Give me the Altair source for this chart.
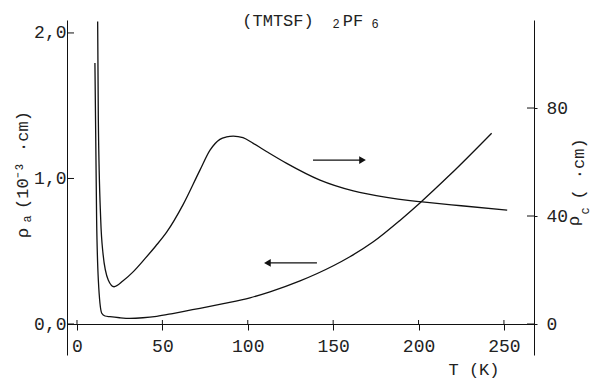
import altair as alt
import pandas as pd

# (TMTSF)2PF6: resistivity along a (10^-3 ohm cm) versus temperature (K)
T_A = [10.5, 11.5, 12.5, 14.5, 16.4, 19.3, 25.0, 31.0, 38.6, 46.7, 56.0, 66.2, 72.0,
       85.7, 101.3, 113.0, 130.6, 150.1, 159.8, 173.5, 189.1, 200.8, 218.4, 242.8]
RHO_A = [1.794, 0.715, 0.302, 0.074, 0.055, 0.050, 0.043, 0.039, 0.043, 0.053, 0.072, 0.095, 0.108,
         0.140, 0.180, 0.221, 0.296, 0.400, 0.462, 0.565, 0.712, 0.832, 1.025, 1.311]

# resistivity along c (ohm cm) versus temperature (K)
T_C = [12.1, 12.5, 13.9, 15.2, 18.3, 21.7, 27.0, 33.0, 39.8, 46.0, 52.5, 62.2, 72.0, 77.9,
       83.7, 87.6, 91.5, 97.2, 103.2, 112.0, 122.8, 142.3, 161.8, 181.3, 195.0, 200.8, 225.0, 251.9]
RHO_C = [112.0, 75.6, 38.5, 26.3, 16.3, 13.8, 16.0, 19.4, 24.2, 28.8, 34.0, 44.3, 57.0, 64.4,
         68.4, 69.3, 69.6, 69.0, 66.9, 63.5, 59.5, 53.3, 49.3, 46.9, 45.7, 45.3, 43.8, 42.2]

T_TICKS = [0, 50, 100, 150, 200, 250]
RHO_A_TICKS = [0, 1, 2]
RHO_C_TICKS = [0, 40, 80]

# arrows telling which axis each curve is read against (start T, head T, level)
ARROW_A_T = [140.5, 111.5]
ARROW_A_LEVEL = [0.42]
ARROW_C_T = [138.2, 167.2]
ARROW_C_LEVEL = [60.7]

FONT = "Liberation Mono"
INK = "#111111"
TEXT = "#222222"
W, H = 467, 335
X_AXIS_SHIFT = -31  # the T axis sits on rho = 0, above the bottom of the frame

xscale = alt.Scale(domain=[-5.85, 267.6], nice=False, zero=False)
ya_scale = alt.Scale(domain=[-0.213, 2.089], nice=False, zero=False)
yc_scale = alt.Scale(domain=[-11.48, 112.6], nice=False, zero=False)

df_a = pd.DataFrame({"T": T_A, "rho": RHO_A})
df_c = pd.DataFrame({"T": T_C, "rho": RHO_C})


def label(text, x, y, size, angle=0, align="center", baseline="middle"):
    """A free text label placed in plot pixel coordinates."""
    kw = dict(font=FONT, fontSize=size, color=TEXT, align=align, baseline=baseline)
    if angle:
        kw["angle"] = angle
    return alt.Chart(pd.DataFrame({"s": [text]})).mark_text(**kw).encode(
        text="s:N", x=alt.value(x), y=alt.value(y)
    )


x_axis = alt.Axis(
    orient="bottom", values=T_TICKS, offset=X_AXIS_SHIFT, tickSize=6, labelPadding=7,
    labelFont=FONT, labelFontSize=18, labelColor=TEXT, domainColor=INK, tickColor=INK,
    labelFlush=False, title=None, grid=False, domain=True, ticks=True, labels=True,
)
ya_axis = alt.Axis(
    orient="left", values=RHO_A_TICKS, format=".1f",
    labelExpr="replace(datum.label, '.', ',')",
    ticks=False, labelPadding=1, labelFont=FONT, labelFontSize=18, labelColor=TEXT,
    domainColor=INK, title=None, grid=False, domain=True, labels=True,
)
yc_axis = alt.Axis(
    orient="right", values=RHO_C_TICKS, tickSize=3, labelPadding=9,
    labelFont=FONT, labelFontSize=18, labelColor=TEXT, domainColor=INK, tickColor=INK,
    title=None, grid=False, domain=True, ticks=True, labels=True,
)

line_a = alt.Chart(df_a).mark_line(
    color=INK, strokeWidth=1.3, interpolate="monotone", clip=True
).encode(
    x=alt.X("T:Q", scale=xscale, axis=x_axis),
    y=alt.Y("rho:Q", scale=ya_scale, axis=ya_axis),
)
line_c = alt.Chart(df_c).mark_line(
    color=INK, strokeWidth=1.3, interpolate="monotone", clip=True
).encode(
    x=alt.X("T:Q", scale=xscale),
    y=alt.Y("rho:Q", scale=yc_scale, axis=yc_axis),
)

# inward halves of the ticks on the three axes
ticks_a = alt.Chart(pd.DataFrame({"v": RHO_A_TICKS})).mark_rule(color=INK).encode(
    y=alt.Y("v:Q", scale=ya_scale, axis=None), x=alt.value(0), x2=alt.value(7)
)
ticks_c = alt.Chart(pd.DataFrame({"v": RHO_C_TICKS})).mark_rule(color=INK).encode(
    y=alt.Y("v:Q", scale=yc_scale, axis=None), x=alt.value(W - 7), x2=alt.value(W)
)
ticks_t = alt.Chart(pd.DataFrame({"v": T_TICKS})).mark_rule(color=INK).encode(
    x=alt.X("v:Q", scale=xscale),
    y=alt.value(H + X_AXIS_SHIFT - 4), y2=alt.value(H + X_AXIS_SHIFT),
)


def arrow(t_pair, level, yscale, shape):
    df = pd.DataFrame({"t0": [t_pair[0]], "t1": [t_pair[1]], "v": level})
    shaft = alt.Chart(df).mark_rule(color=INK, strokeWidth=1.2).encode(
        x=alt.X("t0:Q", scale=xscale), x2="t1:Q",
        y=alt.Y("v:Q", scale=yscale, axis=None),
    )
    head = alt.Chart(df).mark_point(
        shape=shape, filled=True, size=60, color=INK, opacity=1
    ).encode(
        x=alt.X("t1:Q", scale=xscale),
        y=alt.Y("v:Q", scale=yscale, axis=None),
    )
    return [shaft, head]


layers = [line_a, line_c, ticks_a, ticks_c, ticks_t]
layers += arrow(ARROW_A_T, ARROW_A_LEVEL, ya_scale, "triangle-left")
layers += arrow(ARROW_C_T, ARROW_C_LEVEL, yc_scale, "triangle-right")
layers += [
    # chart title (TMTSF)2PF6 with subscripts
    label("(TMTSF)", 211, 6, 17, baseline="alphabetic"),
    label("2", 269, 8, 12, baseline="alphabetic"),
    label("PF", 286, 6, 17, baseline="alphabetic"),
    label("6", 308, 8, 12, baseline="alphabetic"),
    # temperature axis title
    label("T (K)", 407, 350, 17),
    # rho_a axis title, rotated
    label("ρ", -44, 213, 17, angle=270),
    label("a", -40, 199, 12, angle=270),
    label("(10⁻³  ·cm)", -44, 140, 17, angle=270),
    # rho_c axis title, rotated
    label("ρ", W + 40, 201, 17, angle=270),
    label("c", W + 51, 191, 12, angle=270),
    label("(  ·cm)", W + 45, 149, 17, angle=270),
]

chart = (
    alt.layer(*layers)
    .resolve_scale(y="independent")
    .properties(
        width=W, height=H, autosize="none",
        padding={"left": 67, "top": 20, "right": 61, "bottom": 25},
        background="white",
    )
    .configure_view(stroke=None)
)

chart.save("out.html", embed_options={"renderer": "svg", "actions": False})
